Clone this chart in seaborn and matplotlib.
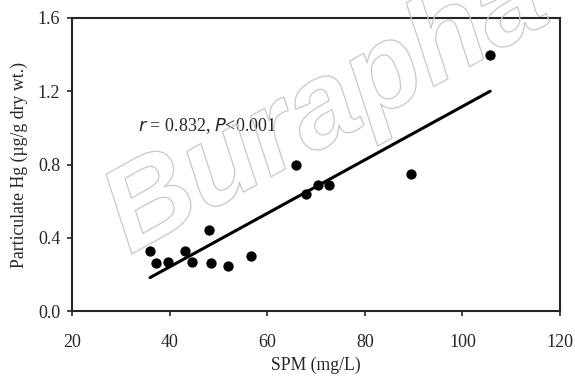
import matplotlib
matplotlib.use("Agg")
import matplotlib.pyplot as plt
import matplotlib.patheffects as pe
import seaborn as sns
import pandas as pd

# Data
spm = [36.0, 37.2, 39.7, 43.2, 44.6, 48.1, 48.5, 52.0, 56.7,
       65.9, 68.0, 70.4, 72.7, 89.5, 105.7]
hg = [0.33, 0.26, 0.27, 0.33, 0.27, 0.44, 0.26, 0.245, 0.30,
      0.80, 0.64, 0.69, 0.69, 0.75, 1.40]
x_ticks = [20, 40, 60, 80, 100, 120]
y_ticks = [0.0, 0.4, 0.8, 1.2, 1.6]

df = pd.DataFrame({"SPM": spm, "Hg": hg})

sns.set_style("ticks")
plt.rcParams["font.family"] = ["Liberation Serif", "DejaVu Serif"]

fig = plt.figure(figsize=(5.75, 3.8), dpi=100)
ax = fig.add_axes([72 / 575, 1 - 311 / 380, (560 - 72) / 575, (311 - 18) / 380])

# Watermark (outlined, rotated)
fig.text(130 / 575, 1 - 255 / 380, "Burapha", fontsize=86, fontweight="bold",
         fontstyle="italic", family="Liberation Sans", rotation=29,
         rotation_mode="anchor", ha="left", va="baseline",
         color="none", zorder=0,
         path_effects=[pe.Stroke(linewidth=0.9, foreground="#c8c8c8")])

sns.regplot(data=df, x="SPM", y="Hg", ax=ax, ci=None, truncate=True,
            scatter_kws={"s": 55, "color": "black", "linewidths": 0, "alpha": 1},
            line_kws={"color": "black", "linewidth": 2.2})

ax.set_xlim(20, 120)
ax.set_ylim(0, 1.6)
ax.set_xticks(x_ticks)
ax.set_yticks(y_ticks)
ax.set_yticklabels([f"{v:.1f}" for v in y_ticks])
ax.tick_params(direction="out", length=3.5, width=1.2, labelsize=13)
ax.tick_params(axis="x", pad=13)
ax.tick_params(axis="y", pad=5)
for s in ax.spines.values():
    s.set_visible(True)
    s.set_linewidth(1.5)
ax.set_xlabel("SPM (mg/L)", fontsize=12.7, labelpad=4)
ax.set_ylabel("Particulate Hg (\u00b5g/g dry wt.)", fontsize=12.8, labelpad=7)
ax.patch.set_alpha(0)

ax.text(33.5, 1.01, r"$\it{r}$ = 0.832, $\it{P}$<0.001", fontsize=13,
        ha="left", va="center")

fig.savefig("out.png", dpi=100)
